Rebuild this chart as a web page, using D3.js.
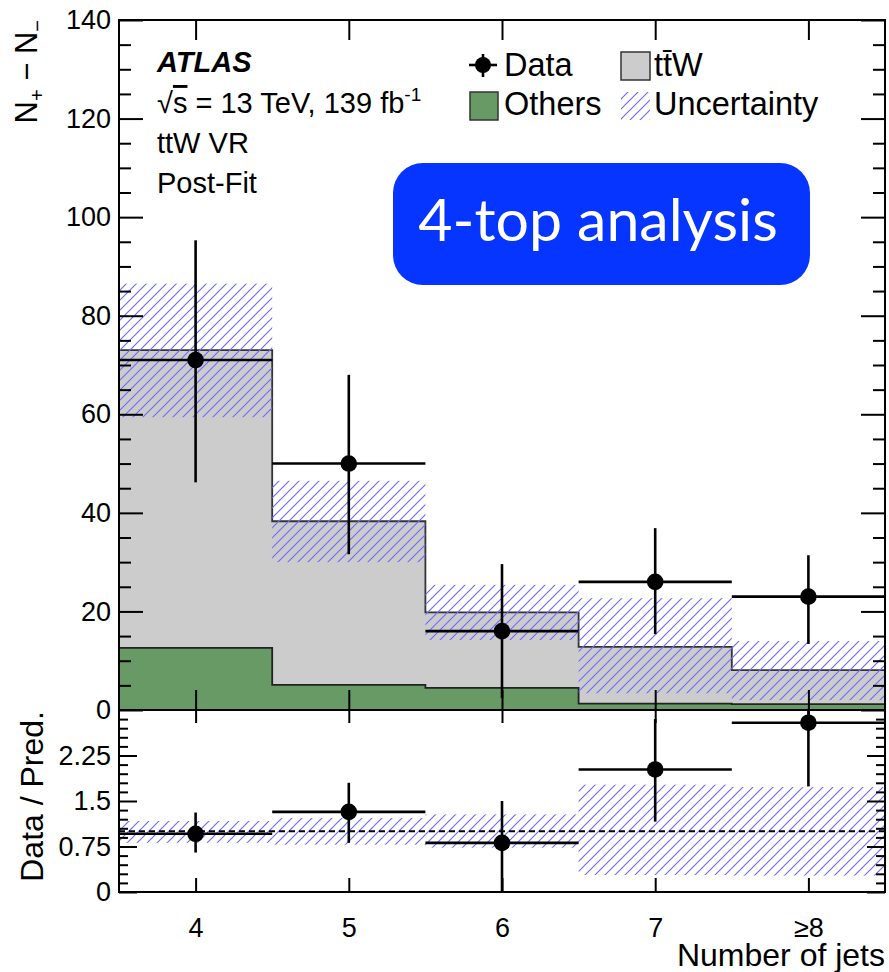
<!DOCTYPE html>
<html>
<head>
<meta charset="utf-8">
<script src="https://cdn.jsdelivr.net/npm/d3@7"></script>
<style>
  body { margin: 0; background: #fff; }
  text { font-family: "Liberation Sans", Arial, Helvetica, sans-serif; }
</style>
</head>
<body>
<svg id="chart" width="889" height="972"></svg>
<script>
// bins and values
const binCenters = [4, 5, 6, 7, 8];
const binLabels = ["4", "5", "6", "7", "\u22658"];
const others = [12.6, 5.1, 4.5, 1.3, 1.2];
const ttW = [60.4, 33.2, 15.3, 11.5, 6.9];
const uncLow = [59.4, 30.0, 14.2, 3.4, 2.0];
const uncHigh = [86.5, 46.5, 25.4, 22.7, 14.0];
const dataVals = [71, 50, 16, 26, 23];
const dataHigh = [95.3, 68, 29.6, 36.9, 31.4];
const dataLow = [46.2, 31.6, 2.4, 15.4, 13.4];

const ratioVals = [0.96, 1.32, 0.81, 2.02, 2.79];
const ratioHigh = [1.31, 1.80, 1.50, 2.85, 3.6];
const ratioLow = [0.65, 0.81, 0.0, 1.16, 1.74];
const ratioUncLow = [0.81, 0.78, 0.73, 0.28, 0.27];
const ratioUncHigh = [1.17, 1.22, 1.28, 1.77, 1.73];

const mainTicks = [0, 20, 40, 60, 80, 100, 120, 140];
const ratioTicks = [0, 0.75, 1.5, 2.25];

let svg = d3.select("#chart"),
    X0 = 119, X1 = 885, YT = 20, YM = 710, YB = 892;

let x = d3.scaleLinear().domain([3.5, 8.5]).range([X0, X1]);
let y = d3.scaleLinear().domain([0, 140]).range([YM, YT]);
let yr = d3.scaleLinear().domain([0, 3]).range([YB, YM]);

let defs = svg.append("defs");
defs.append("pattern")
    .attr("id", "hatch")
    .attr("patternUnits", "userSpaceOnUse")
    .attr("width", 10).attr("height", 10)
  .append("path")
    .attr("d", "M-2,2 L2,-2 M0,10 L10,0 M8,12 L12,8")
    .attr("stroke", "#6d6dff")
    .attr("stroke-width", 1.2);
defs.append("clipPath").attr("id", "clipMain")
  .append("rect").attr("x", X0).attr("y", YT).attr("width", X1 - X0).attr("height", YM - YT);
defs.append("clipPath").attr("id", "clipRatio")
  .append("rect").attr("x", X0).attr("y", YM).attr("width", X1 - X0).attr("height", YB - YM);

// step helpers: one point per bin edge, last value repeated
function stepPoints(lo, hi) {
    return binCenters.concat([binCenters[4] + 1]).map(function (c, i) {
        let k = Math.min(i, lo.length - 1);
        return { e: c - 0.5, lo: lo[k], hi: hi[k] };
    });
}
function stepArea(ys) {
    return d3.area().curve(d3.curveStepAfter)
        .x(function (d) { return x(d.e); })
        .y0(function (d) { return ys(d.lo); })
        .y1(function (d) { return ys(d.hi); });
}
function stepLine(ys) {
    return d3.line().curve(d3.curveStepAfter)
        .x(function (d) { return x(d.e); })
        .y(function (d) { return ys(d.hi); });
}

let total = ttW.map(function (v, i) { return v + others[i]; });
let zeros = others.map(function () { return 0; });

// ---- main panel
let main = svg.append("g").attr("clip-path", "url(#clipMain)");

main.append("path")
    .datum(stepPoints(others, total))
    .attr("d", stepArea(y))
    .attr("fill", "#cccccc");
main.append("path")
    .datum(stepPoints(zeros, others))
    .attr("d", stepArea(y))
    .attr("fill", "#679a64");

main.append("path")
    .datum(stepPoints(zeros, total))
    .attr("d", stepLine(y))
    .attr("fill", "none").attr("stroke", "#333").attr("stroke-width", 1.8);
main.append("path")
    .datum(stepPoints(zeros, others))
    .attr("d", stepLine(y))
    .attr("fill", "none").attr("stroke", "#222").attr("stroke-width", 1.8);

main.selectAll(".unc")
    .data(binCenters)
    .enter().append("rect")
    .attr("class", "unc")
    .attr("x", function (c) { return x(c - 0.5); })
    .attr("width", function (c) { return x(c + 0.5) - x(c - 0.5); })
    .attr("y", function (c, i) { return y(uncHigh[i]); })
    .attr("height", function (c, i) { return y(uncLow[i]) - y(uncHigh[i]); })
    .attr("fill", "url(#hatch)");

function drawPoints(g, vals, lo, hi, ys) {
    let pt = g.selectAll(".pt")
        .data(binCenters)
        .enter().append("g").attr("class", "pt");
    pt.append("line")
        .attr("x1", function (c) { return x(c - 0.5); })
        .attr("x2", function (c) { return x(c + 0.5); })
        .attr("y1", function (c, i) { return ys(vals[i]); })
        .attr("y2", function (c, i) { return ys(vals[i]); })
        .attr("stroke", "#000").attr("stroke-width", 2.6);
    pt.append("line")
        .attr("x1", function (c) { return x(c); })
        .attr("x2", function (c) { return x(c); })
        .attr("y1", function (c, i) { return ys(lo[i]); })
        .attr("y2", function (c, i) { return ys(hi[i]); })
        .attr("stroke", "#000").attr("stroke-width", 2.6);
    pt.append("circle")
        .attr("cx", function (c) { return x(c); })
        .attr("cy", function (c, i) { return ys(vals[i]); })
        .attr("r", 8.3)
        .attr("fill", "#000");
}
drawPoints(main, dataVals, dataLow, dataHigh, y);

// ---- ratio panel
let rat = svg.append("g").attr("clip-path", "url(#clipRatio)");
rat.selectAll(".unc")
    .data(binCenters)
    .enter().append("rect")
    .attr("class", "unc")
    .attr("x", function (c) { return x(c - 0.5); })
    .attr("width", function (c) { return x(c + 0.5) - x(c - 0.5); })
    .attr("y", function (c, i) { return yr(ratioUncHigh[i]); })
    .attr("height", function (c, i) { return yr(ratioUncLow[i]) - yr(ratioUncHigh[i]); })
    .attr("fill", "url(#hatch)");
rat.append("line")
    .attr("x1", X0).attr("x2", X1)
    .attr("y1", yr(1)).attr("y2", yr(1))
    .attr("stroke", "#000").attr("stroke-width", 2)
    .attr("stroke-dasharray", "6,4");
drawPoints(rat, ratioVals, ratioLow, ratioHigh, yr);

// ---- axes
function styleAxis(g) {
    g.select(".domain").remove();
    g.selectAll("line").attr("stroke", "#000").attr("stroke-width", 2);
    g.selectAll("text").attr("font-size", 27).attr("fill", "#000")
        .style("font-family", "'Liberation Sans', Arial, sans-serif");
}
function minorOf(major, n) {
    let out = [];
    for (let i = 0; i < major.length - 1; i++)
        for (let k = 1; k < n; k++) out.push(major[i] + (major[i + 1] - major[i]) * k / n);
    return out;
}

// main y
svg.append("g").attr("transform", "translate(" + X0 + ",0)")
    .call(d3.axisLeft(y).tickValues(mainTicks).tickSize(-24).tickPadding(8))
    .call(styleAxis);
svg.append("g").attr("transform", "translate(" + X0 + ",0)")
    .call(d3.axisLeft(y).tickValues(minorOf(mainTicks, 4)).tickSize(-12).tickFormat(""))
    .call(styleAxis);
svg.append("g").attr("transform", "translate(" + X1 + ",0)")
    .call(d3.axisRight(y).tickValues(mainTicks).tickSize(-24).tickFormat(""))
    .call(styleAxis);
svg.append("g").attr("transform", "translate(" + X1 + ",0)")
    .call(d3.axisRight(y).tickValues(minorOf(mainTicks, 4)).tickSize(-12).tickFormat(""))
    .call(styleAxis);

// ratio y
let rMajor = ratioTicks.concat([3]);
svg.append("g").attr("transform", "translate(" + X0 + ",0)")
    .call(d3.axisLeft(yr).tickValues(ratioTicks).tickSize(-18).tickPadding(8)
        .tickFormat(function (d) { return String(d); }))
    .call(styleAxis);
svg.append("g").attr("transform", "translate(" + X0 + ",0)")
    .call(d3.axisLeft(yr).tickValues(minorOf(rMajor, 5)).tickSize(-9).tickFormat(""))
    .call(styleAxis);
svg.append("g").attr("transform", "translate(" + X1 + ",0)")
    .call(d3.axisRight(yr).tickValues(ratioTicks).tickSize(-18).tickFormat(""))
    .call(styleAxis);
svg.append("g").attr("transform", "translate(" + X1 + ",0)")
    .call(d3.axisRight(yr).tickValues(minorOf(rMajor, 5)).tickSize(-9).tickFormat(""))
    .call(styleAxis);

// x ticks
svg.append("g").attr("transform", "translate(0," + YT + ")")
    .call(d3.axisTop(x).tickValues(binCenters).tickSize(-20).tickFormat(""))
    .call(styleAxis);
svg.append("g").attr("transform", "translate(0," + YM + ")")
    .call(d3.axisBottom(x).tickValues(binCenters).tickSize(-20).tickFormat(""))
    .call(styleAxis);
svg.append("g").attr("transform", "translate(0," + YM + ")")
    .call(d3.axisTop(x).tickValues(binCenters).tickSize(-13).tickFormat(""))
    .call(styleAxis);
svg.append("g").attr("transform", "translate(0," + YB + ")")
    .call(d3.axisBottom(x).tickValues(binCenters).tickSize(-14).tickPadding(26)
        .tickFormat(function (d, i) { return binLabels[i]; }))
    .call(styleAxis);

// frames
svg.append("rect").attr("x", X0).attr("y", YT).attr("width", X1 - X0).attr("height", YM - YT)
    .attr("fill", "none").attr("stroke", "#000").attr("stroke-width", 2);
svg.append("rect").attr("x", X0).attr("y", YM).attr("width", X1 - X0).attr("height", YB - YM)
    .attr("fill", "none").attr("stroke", "#000").attr("stroke-width", 2);

// axis titles
let yt = svg.append("text")
    .attr("transform", "translate(37," + YT + ") rotate(-90)")
    .attr("text-anchor", "end")
    .attr("font-size", 31);
yt.append("tspan").text("N");
yt.append("tspan").attr("font-size", 20).attr("dy", 7).text("+");
yt.append("tspan").attr("dy", -7).text(" \u2212 N");
yt.append("tspan").attr("font-size", 20).attr("dy", 7).text("\u2212");

svg.append("text")
    .attr("transform", "translate(43," + (YM + 1) + ") rotate(-90)")
    .attr("text-anchor", "end")
    .attr("font-size", 32)
    .text("Data / Pred.");

svg.append("text")
    .attr("x", X1).attr("y", 966)
    .attr("text-anchor", "end")
    .attr("font-size", 32)
    .text("Number of jets");

// labels
svg.append("text").attr("x", 157).attr("y", 72)
    .attr("font-size", 29).attr("font-weight", "bold").attr("font-style", "italic")
    .text("ATLAS");
let lumi = svg.append("text").attr("x", 157).attr("y", 113).attr("font-size", 29);
lumi.append("tspan").text("\u221A");
lumi.append("tspan").style("text-decoration", "overline").text("s");
lumi.append("tspan").text(" = 13 TeV, 139 fb");
lumi.append("tspan").attr("font-size", 19).attr("dy", -12).text("-1");
svg.append("text").attr("x", 157).attr("y", 153).attr("font-size", 29).text("ttW VR");
svg.append("text").attr("x", 157).attr("y", 193).attr("font-size", 29).text("Post-Fit");

// legend
let lg = svg.append("g");
lg.append("line").attr("x1", 469).attr("x2", 497).attr("y1", 65).attr("y2", 65)
    .attr("stroke", "#000").attr("stroke-width", 2.6);
lg.append("line").attr("x1", 483).attr("x2", 483).attr("y1", 54).attr("y2", 77)
    .attr("stroke", "#000").attr("stroke-width", 2.6);
lg.append("circle").attr("cx", 483).attr("cy", 65).attr("r", 8).attr("fill", "#000");
lg.append("text").attr("x", 504).attr("y", 76).attr("font-size", 32.5).text("Data");

lg.append("rect").attr("x", 621).attr("y", 52).attr("width", 29).attr("height", 28)
    .attr("fill", "#cccccc").attr("stroke", "#333").attr("stroke-width", 1.5);
lg.append("text").attr("x", 654).attr("y", 76).attr("font-size", 32.5).text("tt\u0304W");

lg.append("rect").attr("x", 470).attr("y", 92).attr("width", 28).attr("height", 28)
    .attr("fill", "#679a64").attr("stroke", "#333").attr("stroke-width", 1.5);
lg.append("text").attr("x", 504).attr("y", 115).attr("font-size", 32.5).text("Others");

lg.append("rect").attr("x", 621).attr("y", 92).attr("width", 29).attr("height", 28)
    .attr("fill", "url(#hatch)");
lg.append("text").attr("x", 654).attr("y", 115).attr("font-size", 32.5).text("Uncertainty");

// 4-top badge
svg.append("rect").attr("x", 393).attr("y", 163).attr("width", 417).attr("height", 122)
    .attr("rx", 30).attr("fill", "#0635ff");
svg.append("text").attr("x", 598).attr("y", 241)
    .attr("text-anchor", "middle").attr("fill", "#fff")
    .attr("font-size", 59)
    .style("font-family", "Lato, 'Open Sans', sans-serif")
    .text("4-top analysis");
</script>
</body>
</html>
